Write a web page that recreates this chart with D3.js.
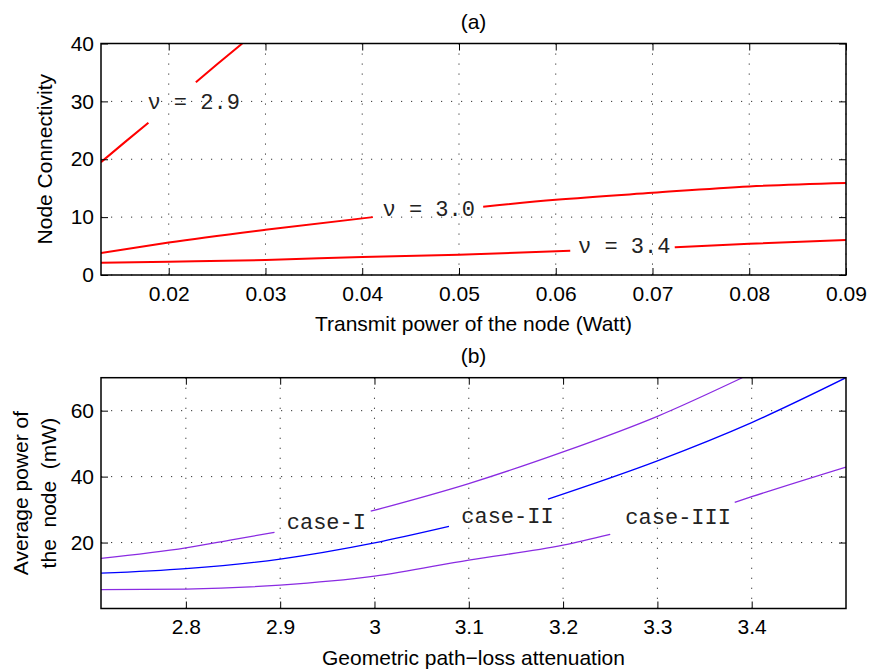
<!DOCTYPE html>
<html>
<head>
<meta charset="utf-8">
<script src="https://cdn.jsdelivr.net/npm/d3@7"></script>
<style>
  body { margin: 0; background: #fff; }
  text { font-family: "Liberation Sans", Arial, sans-serif; }
  .mono { font-family: "Liberation Mono", "Courier New", monospace; }
</style>
</head>
<body>
<div id="chart"></div>
<script>
// ---- data ----
// (a) node connectivity vs transmit power, null = gap left for the label
const nu29X = [0.013, 0.0155, 0.0179, 0.020, 0.0228, 0.025, 0.0276];
const nu29Y = [19.5, 23.0, 26.3, null, 33.3, 36.4, 40];
const nu30X = [0.013, 0.02, 0.03, 0.0411, 0.046, 0.0525, 0.06, 0.07, 0.08, 0.09];
const nu30Y = [3.8, 5.6, 7.8, 10.0, null, 11.8, 13.0, 14.2, 15.3, 15.9];
const nu34X = [0.013, 0.02, 0.03, 0.04, 0.05, 0.0615, 0.067, 0.0723, 0.08, 0.09];
const nu34Y = [2.1, 2.3, 2.6, 3.1, 3.5, 4.2, null, 4.8, 5.4, 6.05];
const topXTicks = [0.02, 0.03, 0.04, 0.05, 0.06, 0.07, 0.08, 0.09];
const topYTicks = [0, 10, 20, 30, 40];
const nuLabels = ["\u03bd = 2.9", "\u03bd = 3.0", "\u03bd = 3.4"];
const nuLabelX = [0.0178, 0.0421, 0.0623];
const nuLabelY = [30.0, 11.5, 5.15];

// (b) average power vs path-loss exponent
const caseIX = [2.71, 2.8, 2.85, 2.894, 2.95, 2.996, 3.1, 3.2, 3.3, 3.39];
const caseIY = [15.2, 18.4, 20.9, 23.1, null, 29.5, 37.9, 47.5, 58.3, 70];
const caseIIX = [2.71, 2.8, 2.9, 3.0, 3.079, 3.13, 3.184, 3.3, 3.4, 3.5];
const caseIIY = [10.7, 12.1, 15.0, 19.9, 24.9, null, 33.2, 44.8, 56.4, 70];
const caseIIIX = [2.71, 2.8, 2.9, 3.0, 3.1, 3.2, 3.25, 3.3, 3.382, 3.4, 3.5];
const caseIIIY = [5.7, 5.9, 7.1, 9.8, 14.7, 19.2, 22.5, null, 32.2, 33.9, 42.9];
const botXTicks = [2.8, 2.9, 3.0, 3.1, 3.2, 3.3, 3.4];
const botYTicks = [20, 40, 60];
const caseLabels = ["case-I", "case-II", "case-III"];
const caseLabelX = [2.907, 3.092, 3.266];
const caseLabelY = [26.5, 28.3, 28.0];

const W = 871, H = 671;
const FS = 21;
const svg = d3.select("#chart").append("svg")
    .attr("width", W).attr("height", H);

// draws one panel: box, inward ticks on four sides, dotted grid, curves, labels
function panel(opt) {
    const x = d3.scaleLinear().domain(opt.xDomain).range([opt.left, opt.right]);
    const y = d3.scaleLinear().domain(opt.yDomain).range([opt.bottom, opt.top]);
    const g = svg.append("g");
    const clipId = "clip" + opt.id;

    g.append("clipPath").attr("id", clipId)
      .append("rect")
        .attr("x", opt.left).attr("y", opt.top)
        .attr("width", opt.right - opt.left).attr("height", opt.bottom - opt.top);

    // grid
    g.selectAll(".gx").data(opt.xTicks).enter().append("line")
        .attr("x1", d => x(d)).attr("x2", d => x(d))
        .attr("y1", opt.top).attr("y2", opt.bottom)
        .attr("stroke", "#333").attr("stroke-width", 1)
        .attr("stroke-dasharray", "1.2,8.8");
    g.selectAll(".gy").data(opt.yTicks).enter().append("line")
        .attr("y1", d => y(d)).attr("y2", d => y(d))
        .attr("x1", opt.left).attr("x2", opt.right)
        .attr("stroke", "#333").attr("stroke-width", 1)
        .attr("stroke-dasharray", "1.2,8.8");

    // curves
    const line = d3.line()
        .defined(d => d[1] != null)
        .x(d => x(d[0])).y(d => y(d[1]))
        .curve(d3.curveMonotoneX);
    opt.series.forEach(s => {
        g.append("path")
            .datum(s.xs.map((v, i) => [v, s.ys[i]]))
            .attr("clip-path", `url(#${clipId})`)
            .attr("fill", "none")
            .attr("stroke", s.color)
            .attr("stroke-width", s.width)
            .attr("d", line);
    });

    // labels on curves
    opt.labels.forEach((t, i) => {
        g.append("text").attr("class", "mono")
            .attr("x", x(opt.labelX[i])).attr("y", y(opt.labelY[i]))
            .attr("dy", "0.35em")
            .style("white-space", "pre")
            .attr("font-size", 22)
            .attr("fill", "#222")
            .text(t);
    });

    // axes, ticks pointing inward
    const fmt = opt.fmt;
    const ax = [
        d3.axisBottom(x).tickValues(opt.xTicks).tickFormat(fmt.x),
        d3.axisTop(x).tickValues(opt.xTicks).tickFormat(""),
        d3.axisLeft(y).tickValues(opt.yTicks).tickFormat(fmt.y),
        d3.axisRight(y).tickValues(opt.yTicks).tickFormat("")
    ];
    const tr = [`translate(0,${opt.bottom})`, `translate(0,${opt.top})`,
                `translate(${opt.left},0)`, `translate(${opt.right},0)`];
    ax.forEach((a, i) => {
        const ag = g.append("g").attr("transform", tr[i])
            .call(a.tickSizeInner(-7).tickSizeOuter(0).tickPadding(i == 2 ? 7 : 11));
        ag.select(".domain").remove();
        ag.selectAll(".tick line").attr("stroke", "#000").attr("stroke-width", 1);
        ag.selectAll("text").attr("font-size", FS).attr("fill", "#000")
            .attr("font-family", "Liberation Sans, Arial, sans-serif");
    });

    g.append("rect")
        .attr("x", opt.left).attr("y", opt.top)
        .attr("width", opt.right - opt.left).attr("height", opt.bottom - opt.top)
        .attr("fill", "none").attr("stroke", "#000").attr("stroke-width", 1.5);

    // titles
    const cx = (opt.left + opt.right) / 2;
    g.append("text").attr("x", cx).attr("y", opt.top - 15)
        .attr("text-anchor", "middle").attr("font-size", FS).text(opt.title);
    g.append("text").attr("x", cx).attr("y", opt.bottom + 56)
        .attr("text-anchor", "middle").attr("font-size", FS).text(opt.xLabel);
    const cy = (opt.top + opt.bottom) / 2;
    opt.yLabel.forEach((t, i) => {
        const lx = opt.yLabelX[i];
        g.append("text")
            .attr("transform", `translate(${lx},${cy}) rotate(-90)`)
            .attr("text-anchor", "middle")
            .style("white-space", "pre")
            .attr("font-size", FS).text(t);
    });
}

panel({
    id: "a",
    left: 101, right: 846, top: 43.5, bottom: 275,
    xDomain: [0.013, 0.09], yDomain: [0, 40],
    xTicks: topXTicks, yTicks: topYTicks,
    fmt: { x: d3.format(".2f"), y: d3.format("d") },
    series: [
        { xs: nu29X, ys: nu29Y, color: "#ff0000", width: 2 },
        { xs: nu30X, ys: nu30Y, color: "#ff0000", width: 2 },
        { xs: nu34X, ys: nu34Y, color: "#ff0000", width: 2 }
    ],
    labels: nuLabels, labelX: nuLabelX, labelY: nuLabelY,
    title: "(a)",
    xLabel: "Transmit power of the node (Watt)",
    yLabel: ["Node Connectivity"], yLabelX: [52]
});

panel({
    id: "b",
    left: 101, right: 846, top: 377.7, bottom: 608.5,
    xDomain: [2.71, 3.5], yDomain: [0, 70],
    xTicks: botXTicks, yTicks: botYTicks,
    fmt: { x: d => d3.format("")(+d.toFixed(1)), y: d3.format("d") },
    series: [
        { xs: caseIX, ys: caseIY, color: "#8a2be2", width: 1.3 },
        { xs: caseIIX, ys: caseIIY, color: "#0000ff", width: 1.3 },
        { xs: caseIIIX, ys: caseIIIY, color: "#8a2be2", width: 1.3 }
    ],
    labels: caseLabels, labelX: caseLabelX, labelY: caseLabelY,
    title: "(b)",
    xLabel: "Geometric path\u2212loss attenuation",
    yLabel: ["Average power of", "the  node  (mW)"], yLabelX: [28, 56]
});
</script>
</body>
</html>
